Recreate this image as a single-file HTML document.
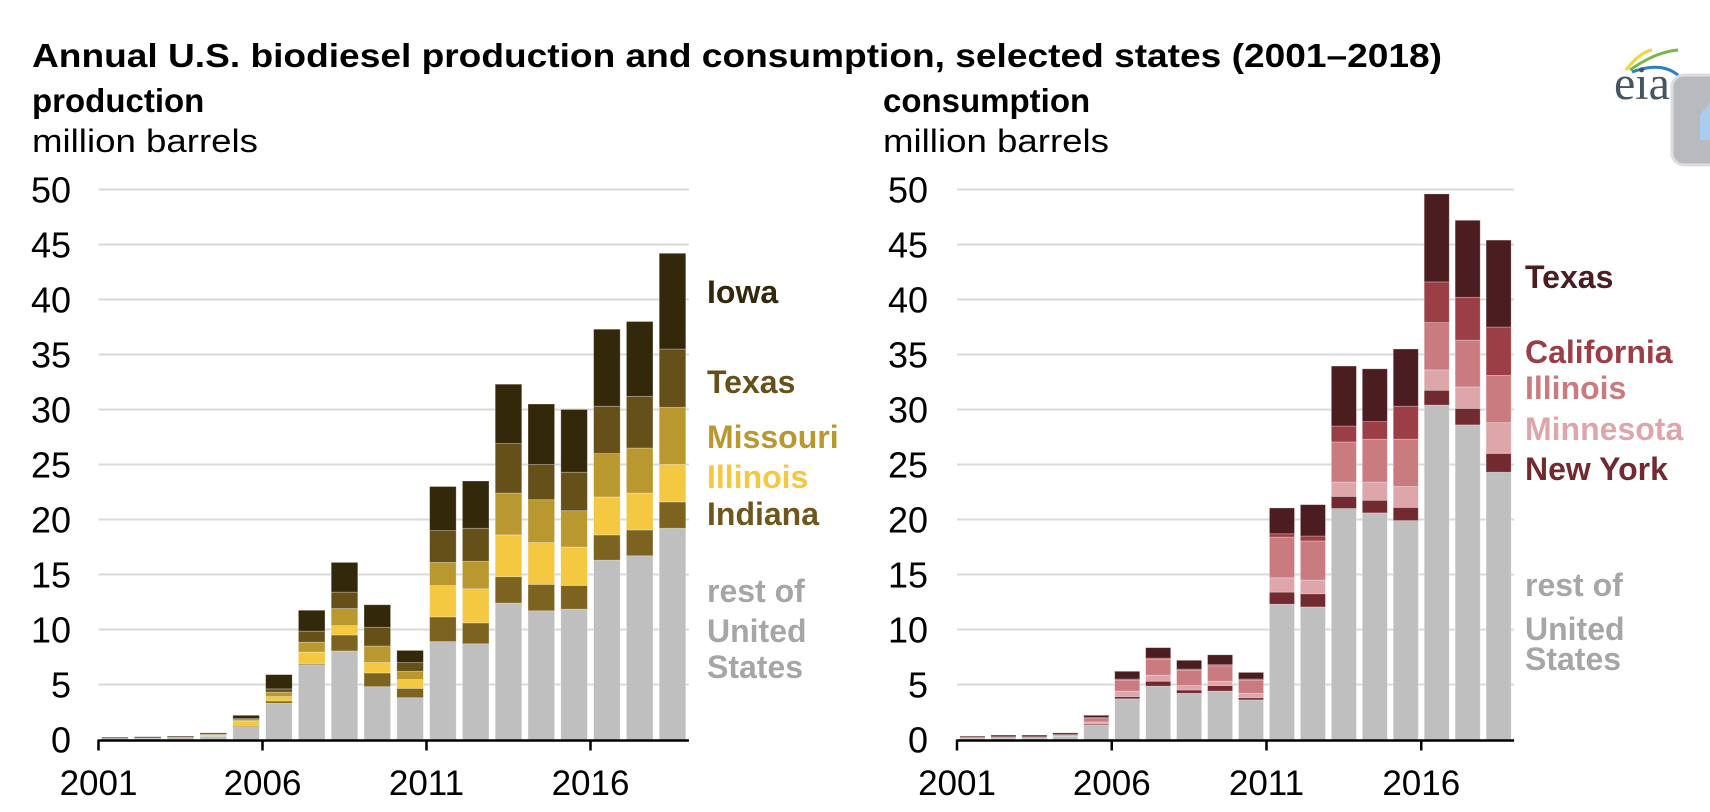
<!DOCTYPE html>
<html><head><meta charset="utf-8"><style>
html,body{margin:0;padding:0;background:#fff;}
svg{display:block;font-family:"Liberation Sans",Arial,sans-serif;}
</style></head><body>
<svg id="c" width="1710" height="812" viewBox="0 0 1710 812">
<text x="32" y="67" font-size="33" font-weight="bold" fill="#000" textLength="1410" lengthAdjust="spacingAndGlyphs">Annual U.S. biodiesel production and consumption, selected states (2001–2018)</text>
<text x="32" y="112" font-size="33" font-weight="bold" fill="#000">production</text>
<text x="32" y="152" font-size="32" fill="#000" textLength="226" lengthAdjust="spacingAndGlyphs">million barrels</text>
<text x="883" y="112" font-size="33" font-weight="bold" fill="#000">consumption</text>
<text x="883" y="152" font-size="32" fill="#000" textLength="226" lengthAdjust="spacingAndGlyphs">million barrels</text>
<g>
<path d="M1626,70 Q1640,52 1652,50" stroke="#f2d43a" stroke-width="3" fill="none"/>
<path d="M1630,70 Q1655,52 1678,50" stroke="#7ab648" stroke-width="3" fill="none"/>
<path d="M1632,72 Q1670,58 1686,85" stroke="#2f7ec2" stroke-width="3" fill="none"/>
<text x="1614" y="99" font-family="'Liberation Serif',serif" font-size="48" fill="#475563">eia</text>
<rect x="1672" y="75" width="60" height="90" rx="12" fill="#b9babd" stroke="#dcdde0" stroke-width="3"/>
<path d="M1700,115 L1712,100 L1712,140 L1700,140 Z" fill="#a9cdf0"/>
</g>
<g id="plots"></g>
</svg>
<script>
const years = ["2001","2002","2003","2004","2005","2006","2007","2008","2009","2010","2011","2012","2013","2014","2015","2016","2017","2018"];
const yTicks = [0,5,10,15,20,25,30,35,40,45,50];
const xTickLabels = ["2001","2006","2011","2016"];
// production (million barrels)
const prodRest     = [0.1,0.15,0.2,0.3,1.1,3.3,6.8,8.05,4.8,3.8,8.9,8.7,12.4,11.7,11.85,16.3,16.7,19.2];
const prodIndiana  = [0,0,0,0,0.1,0.2,0.1,1.45,1.25,0.85,2.25,1.9,2.4,2.4,2.15,2.3,2.35,2.4];
const prodIllinois = [0,0,0,0.1,0.5,0.4,1.05,0.85,0.95,0.8,2.85,3.1,3.8,3.8,3.5,3.45,3.35,3.4];
const prodMissouri = [0,0,0,0.05,0.1,0.4,0.9,1.55,1.5,0.75,2.1,2.5,3.8,3.9,3.3,3.95,4.1,5.2];
const prodTexas    = [0,0,0,0.05,0.1,0.3,1.0,1.5,1.7,0.8,2.9,3.0,4.5,3.2,3.5,4.3,4.7,5.3];
const prodIowa     = [0.1,0.1,0.1,0.1,0.3,1.3,1.9,2.7,2.05,1.1,4.0,4.3,5.4,5.5,5.7,7.0,6.8,8.7];
// consumption (million barrels)
const consRest       = [0.1,0.15,0.15,0.3,1.3,3.7,4.85,4.2,4.4,3.6,12.3,12.05,21.0,20.6,19.9,30.4,28.6,24.3];
const consNewYork    = [0,0,0,0,0.1,0.2,0.45,0.3,0.5,0.2,1.1,1.2,1.1,1.15,1.2,1.35,1.5,1.7];
const consMinnesota  = [0,0,0,0.05,0.2,0.5,0.55,0.4,0.4,0.4,1.3,1.25,1.3,1.65,1.9,1.85,1.95,2.8];
const consIllinois   = [0.1,0.1,0.1,0.1,0.3,1.0,1.45,1.4,1.4,1.2,3.7,3.55,3.65,3.9,4.3,4.3,4.25,4.3];
const consCalifornia = [0,0,0,0,0.1,0.1,0.1,0.1,0.1,0.1,0.3,0.45,1.45,1.6,3.0,3.7,3.9,4.4];
const consTexas      = [0.1,0.15,0.15,0.15,0.2,0.7,0.95,0.8,0.9,0.6,2.35,2.85,5.45,4.8,5.2,8.0,7.0,7.9];

const NS="http://www.w3.org/2000/svg";
const root=document.getElementById('plots');
function mk(tag,attrs,parent){const e=document.createElementNS(NS,tag);for(const k in attrs)e.setAttribute(k,attrs[k]);parent.appendChild(e);return e;}
const Y0=739.5, PXU=11.0;
function yScale(v){return Y0-v*PXU;}

function panel(cfg){
  const g=mk('g',{},root);
  
  
  const xEnd=cfg.x0+cfg.pitch*years.length;
  yTicks.forEach(t=>{
    if(t>0){const l=mk('line',{x1:cfg.x0,x2:xEnd,y1:yScale(t),y2:yScale(t),stroke:'#d9d9d9','stroke-width':2},g);
    
    }
    const tx=mk('text',{x:cfg.labelX,y:yScale(t)+13,'font-size':36,'text-anchor':'end',fill:'#000'},g);
    tx.textContent=t;
    
    
  });
  const w=cfg.pitch*0.81, gap=(cfg.pitch-w)/2;
  years.forEach((yr,i)=>{
    let base=0;
    cfg.series.forEach(s=>{
      const v=s.values[i];
      if(v<=0)return;
      const r=mk('rect',{x:cfg.x0+i*cfg.pitch+gap,y:yScale(base+v),width:w,height:v*PXU,fill:s.color,stroke:'rgba(255,255,255,0.35)','stroke-width':0.8},g);
      
      
      base+=v;
    });
  });
  mk('line',{x1:cfg.x0,x2:xEnd,y1:Y0+1,y2:Y0+1,stroke:'#000','stroke-width':2.5},g);
  xTickLabels.forEach(lab=>{
    const i=years.indexOf(lab);
    const x=cfg.x0+i*cfg.pitch;
    const tk=mk('line',{x1:x,x2:x,y1:Y0,y2:Y0+11,stroke:'#000','stroke-width':2.5},g);
    
    
    const t=mk('text',{x:x,y:795,'font-size':35,'text-anchor':'middle',fill:'#000'},g);
    t.textContent=lab;
    
    
  });
  cfg.legend.forEach(L=>{
    const t=mk('text',{x:cfg.legendX,y:L[1],'font-size':32,'font-weight':'bold',fill:L[2]},g);
    t.textContent=L[0];
    
    
  });
}

panel({name:'production-chart',x0:98.5,pitch:32.8,labelX:71,legendX:707,
 series:[
  {key:'rest',values:prodRest,color:'#bfbfbf'},
  {key:'indiana',values:prodIndiana,color:'#7d6320'},
  {key:'illinois',values:prodIllinois,color:'#f5c842'},
  {key:'missouri',values:prodMissouri,color:'#b99830'},
  {key:'texas',values:prodTexas,color:'#655019'},
  {key:'iowa',values:prodIowa,color:'#33290a'}],
 legend:[["Iowa",303,"#33290a"],["Texas",393,"#655019"],["Missouri",448,"#b99830"],["Illinois",488,"#f5c842"],["Indiana",525,"#6e561c"],["rest of",602,"#a6a6a6"],["United",642,"#a6a6a6"],["States",678,"#a6a6a6"]]});

panel({name:'consumption-chart',x0:957,pitch:30.95,labelX:928,legendX:1525,
 series:[
  {key:'rest',values:consRest,color:'#bfbfbf'},
  {key:'new-york',values:consNewYork,color:'#722a31'},
  {key:'minnesota',values:consMinnesota,color:'#dca6aa'},
  {key:'illinois',values:consIllinois,color:'#c97b80'},
  {key:'california',values:consCalifornia,color:'#9b3e45'},
  {key:'texas',values:consTexas,color:'#4b1c20'}],
 legend:[["Texas",288,"#4b1c20"],["California",363,"#9b3e45"],["Illinois",399,"#c97b80"],["Minnesota",440,"#dca6aa"],["New York",480,"#722a31"],["rest of",596,"#a6a6a6"],["United",640,"#a6a6a6"],["States",670,"#a6a6a6"]]});
</script>
</body></html>
